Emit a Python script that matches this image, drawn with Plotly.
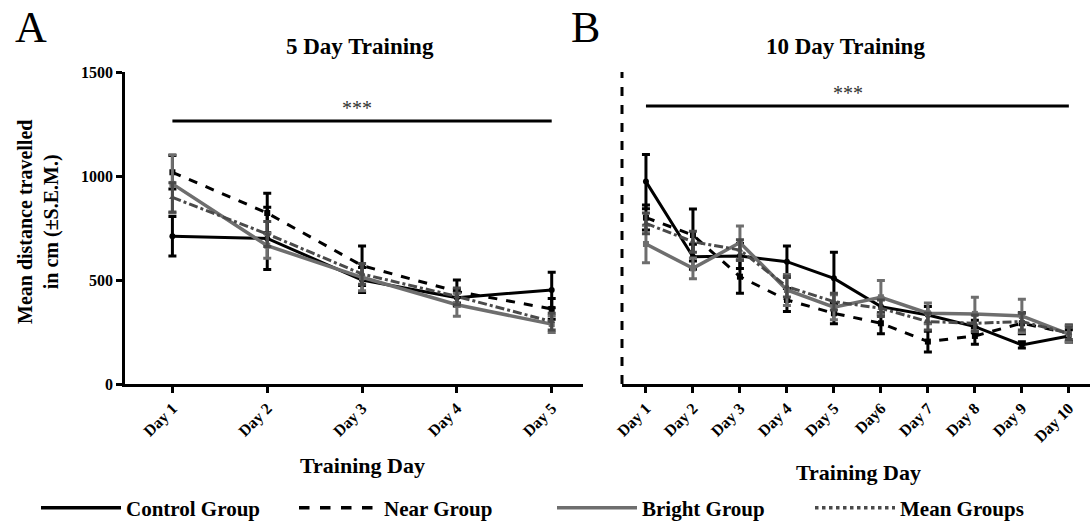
import plotly.graph_objects as go

# ---------------- data ----------------
days_a = ["Day 1", "Day 2", "Day 3", "Day 4", "Day 5"]
days_b = ["Day 1", "Day 2", "Day 3", "Day 4", "Day 5", "Day6", "Day 7", "Day 8", "Day 9", "Day 10"]

control_a = [710, 700, 500, 415, 452]
control_a_sem = [95, 150, 60, 40, 85]
near_a = [1018, 822, 569, 445, 361]
near_a_sem = [80, 95, 95, 55, 50]
bright_a = [962, 665, 513, 381, 288]
bright_a_sem = [140, 60, 65, 55, 40]
mean_a = [897, 721, 529, 421, 300]
mean_a_sem = [70, 60, 50, 40, 40]

control_b = [973, 612, 615, 588, 508, 372, 332, 276, 188, 231]
control_b_sem = [130, 60, 60, 75, 125, 40, 40, 30, 15, 30]
near_b = [800, 716, 516, 404, 340, 292, 204, 231, 292, 244]
near_b_sem = [60, 125, 80, 55, 50, 50, 50, 40, 50, 40]
bright_b = [673, 556, 680, 452, 369, 417, 340, 337, 327, 240]
bright_b_sem = [90, 50, 80, 75, 60, 80, 50, 80, 80, 40]
mean_b = [772, 684, 644, 468, 396, 364, 300, 292, 300, 244]
mean_b_sem = [50, 50, 50, 50, 40, 40, 40, 40, 40, 30]

sig_a_y = 1264
sig_b_y = 1336
y_ticks = [0, 500, 1000, 1500]
group_names = ["Control Group", "Near Group", "Bright Group", "Mean Groups"]

FONT = "Liberation Serif"
BLACK = "#000000"
GRAY = "#6e6e6e"
MGRAY = "#4a4a4a"

styles = {
    "Control Group": dict(color=BLACK, dash="solid", width=3, symbol="circle"),
    "Near Group": dict(color=BLACK, dash="dash", width=3, symbol="square"),
    "Bright Group": dict(color=GRAY, dash="solid", width=3.5, symbol="square"),
    "Mean Groups": dict(color=MGRAY, dash="dot", width=3, symbol="triangle-up"),
}
# mean groups line in the plot is dash-dot; the legend shows a dotted sample
plot_dash = {"Control Group": "solid", "Near Group": "dash",
             "Bright Group": "solid", "Mean Groups": "dashdot"}

fig = go.Figure()


def add_series(name, x, y, err, xaxis, yaxis):
    s = styles[name]
    fig.add_trace(go.Scatter(
        x=x, y=y, name=name, mode="lines+markers",
        line=dict(color=s["color"], dash=plot_dash[name], width=s["width"]),
        marker=dict(color=s["color"], size=6, symbol=s["symbol"]),
        error_y=dict(type="data", array=err, visible=True, color=s["color"],
                     thickness=3, width=4),
        xaxis=xaxis, yaxis=yaxis, showlegend=False,
    ))


for name, y, e in zip(group_names, [control_a, near_a, bright_a, mean_a],
                      [control_a_sem, near_a_sem, bright_a_sem, mean_a_sem]):
    add_series(name, days_a, y, e, "x", "y")

for name, y, e in zip(group_names, [control_b, near_b, bright_b, mean_b],
                      [control_b_sem, near_b_sem, bright_b_sem, mean_b_sem]):
    add_series(name, days_b, y, e, "x2", "y2")

# legend-only entries (line samples without markers)
for name in group_names:
    s = styles[name]
    fig.add_trace(go.Scatter(x=[None], y=[None], name=name, mode="lines",
                             line=dict(color=s["color"], dash=s["dash"], width=3.5),
                             showlegend=True, xaxis="x", yaxis="y"))

# page body margin is removed by post_script below, so the figure fills the window
W, H = 1092, 523


def px(x):
    return x / W


def py(y):
    return (H - y) / H


ydom = [py(384), py(72)]

axis_common = dict(
    showline=True, linecolor=BLACK, linewidth=2.5, ticks="outside",
    ticklen=6, tickwidth=2.5, tickcolor=BLACK, showgrid=False, zeroline=False,
    automargin=False,
    tickfont=dict(family=FONT, size=16, color=BLACK, weight="bold"),
)

fig.update_layout(
    width=W, height=H, margin=dict(l=0, r=0, t=0, b=0, autoexpand=False),
    paper_bgcolor="white", plot_bgcolor="white",
    font=dict(family=FONT, color=BLACK),
    xaxis=dict(domain=[px(125), px(583)], type="category", range=[-0.5, 4.33],
               tickangle=-45, anchor="y", **axis_common),
    yaxis=dict(domain=ydom, range=[0, 1500], tickvals=y_ticks, anchor="x",
               **axis_common),
    xaxis2=dict(domain=[px(622), px(1090)], type="category", range=[-0.51, 9.45],
                tickangle=-45, anchor="y2", **axis_common),
    yaxis2=dict(domain=ydom, range=[0, 1500], anchor="x2", showline=False,
                showticklabels=False, ticks="", showgrid=False, zeroline=False),
    legend=dict(orientation="h", x=px(36), y=py(508), xanchor="left", yanchor="middle",
                entrywidth=163, entrywidthmode="pixels", itemwidth=80,
                font=dict(family=FONT, size=21, color=BLACK, weight="bold"),
                bgcolor="rgba(0,0,0,0)"),
    showlegend=True,
)

# dashed y axis of panel B
fig.add_shape(type="line", xref="paper", yref="paper", x0=px(622), x1=px(622),
              y0=ydom[0], y1=ydom[1], line=dict(color=BLACK, width=3, dash="dash"))

# significance bars
fig.add_shape(type="line", xref="x", yref="y", x0=0, x1=4, y0=sig_a_y, y1=sig_a_y,
              line=dict(color=BLACK, width=3))
fig.add_shape(type="line", xref="x2", yref="y2", x0=0, x1=9, y0=sig_b_y, y1=sig_b_y,
              line=dict(color=BLACK, width=3))


def pann(x, y, text, size, angle=0):
    return dict(x=px(x), y=py(y), xref="paper", yref="paper", text=text,
                showarrow=False, xanchor="center", yanchor="middle", textangle=angle,
                font=dict(family=FONT, size=size, color=BLACK))


ann = [
    dict(x=1.95, y=sig_a_y, xref="x", yref="y", text="***", showarrow=False,
         xanchor="center", yanchor="bottom", yshift=0,
         font=dict(family=FONT, size=20, color="#333333")),
    dict(x=4.3, y=sig_b_y, xref="x2", yref="y2", text="***", showarrow=False,
         xanchor="center", yanchor="bottom", yshift=0,
         font=dict(family=FONT, size=20, color="#333333")),
    pann(360, 47, "<b>5 Day Training</b>", 23),
    pann(845, 47, "<b>10 Day Training</b>", 23),
    pann(31, 28, "A", 44),
    pann(585, 28, "B", 44),
    pann(38, 222, "<b>Mean distance travelled<br>in cm (±S.E.M.)</b>", 20, -90),
    pann(362, 465, "<b>Training Day</b>", 22),
    pann(858, 472, "<b>Training Day</b>", 22),
]
fig.update_layout(annotations=ann)

fig.write_html(
    "out.html",
    config={"displayModeBar": False},
    post_script="document.body.style.margin='0px';document.body.style.overflow='hidden';",
)
